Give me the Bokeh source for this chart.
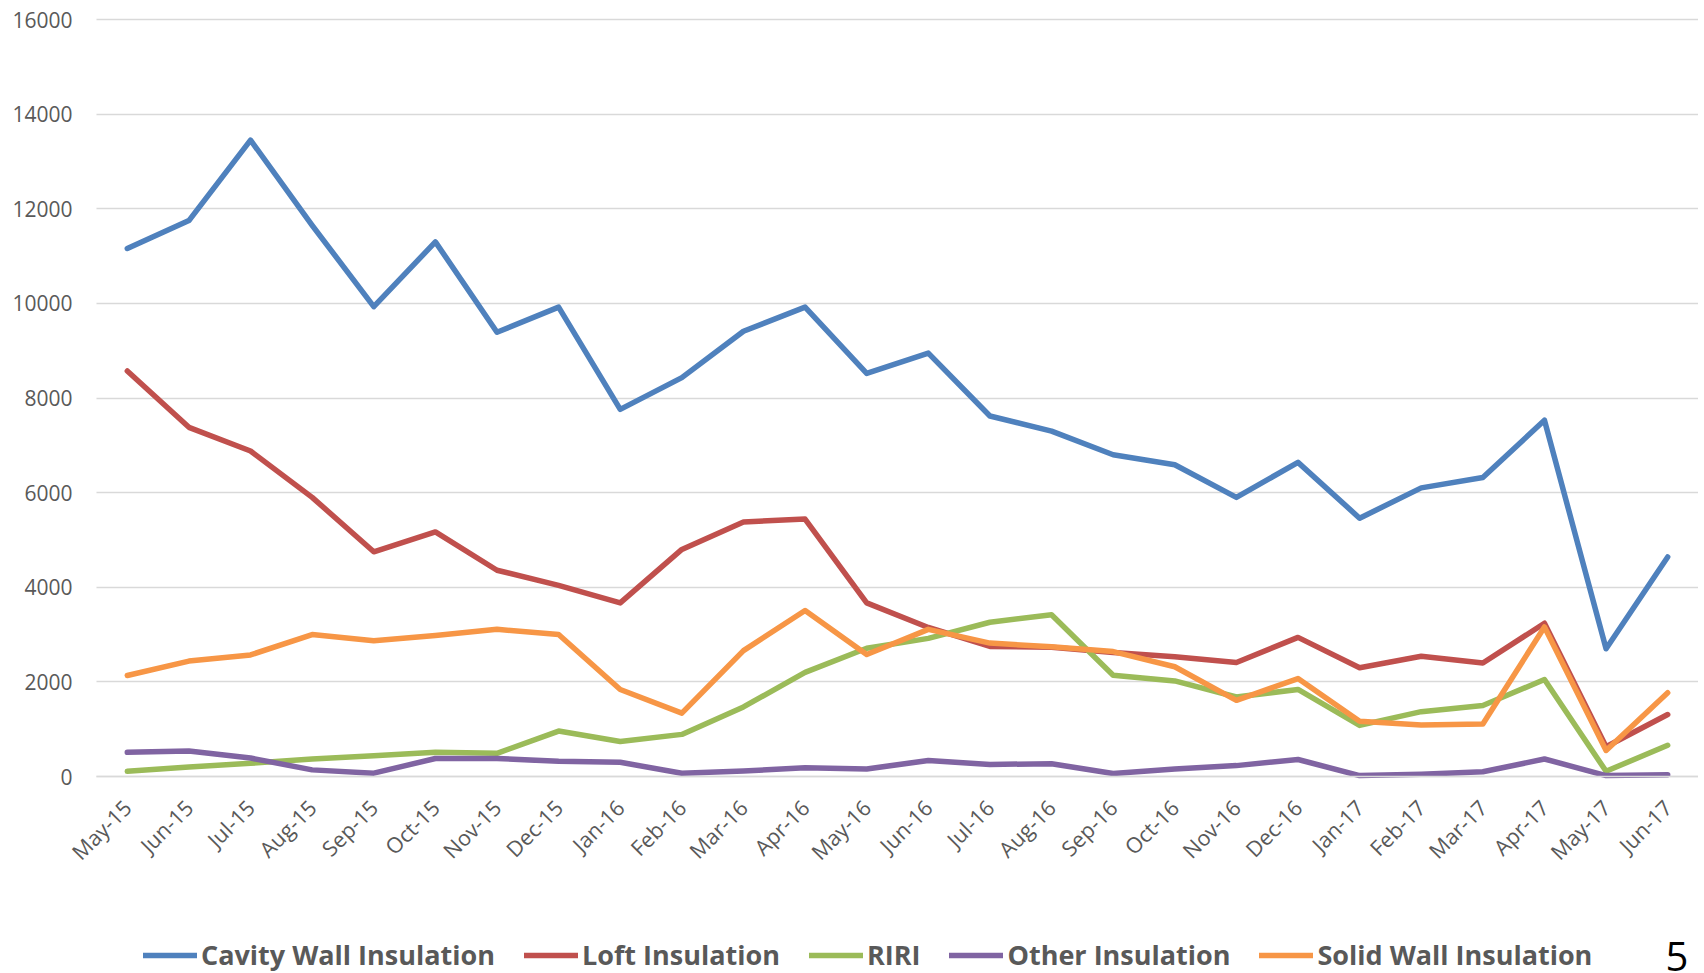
from bokeh.plotting import figure
from bokeh.models import Range1d, Legend, LegendItem, Label, FixedTicker
from bokeh.embed import file_html
from bokeh.resources import INLINE
import math

months = ["May-15", "Jun-15", "Jul-15", "Aug-15", "Sep-15", "Oct-15", "Nov-15", "Dec-15",
          "Jan-16", "Feb-16", "Mar-16", "Apr-16", "May-16", "Jun-16", "Jul-16", "Aug-16",
          "Sep-16", "Oct-16", "Nov-16", "Dec-16", "Jan-17", "Feb-17", "Mar-17", "Apr-17",
          "May-17", "Jun-17"]

cavity_wall = [11160, 11750, 13450, 11650, 9930, 11300, 9390, 9920,
               7760, 8430, 9410, 9920, 8520, 8950, 7620, 7300,
               6800, 6590, 5900, 6640, 5460, 6100, 6320, 7530,
               2700, 4640]
loft = [8570, 7380, 6880, 5900, 4750, 5170, 4360, 4040,
        3670, 4800, 5380, 5440, 3670, 3150, 2750, 2730,
        2620, 2530, 2410, 2940, 2300, 2540, 2400, 3240,
        630, 1310]
riri = [110, 200, 280, 370, 440, 510, 490, 960,
        740, 890, 1470, 2200, 2710, 2920, 3260, 3420,
        2140, 2020, 1680, 1840, 1080, 1370, 1500, 2050,
        110, 660]
other = [510, 540, 390, 140, 70, 380, 380, 320,
         300, 70, 115, 185, 160, 340, 255, 270,
         65, 160, 230, 360, 20, 50, 100, 370,
         20, 35]
solid_wall = [2135, 2440, 2570, 3000, 2870, 2980, 3110, 3000,
              1840, 1340, 2660, 3510, 2580, 3110, 2820, 2740,
              2640, 2320, 1610, 2070, 1170, 1090, 1110, 3160,
              550, 1770]
y_ticks = [0, 2000, 4000, 6000, 8000, 10000, 12000, 14000, 16000]

series = [
    ("Cavity Wall Insulation", cavity_wall, "#4F81BD"),
    ("Loft Insulation", loft, "#C0504D"),
    ("RIRI", riri, "#9BBB59"),
    ("Other Insulation", other, "#8064A2"),
    ("Solid Wall Insulation", solid_wall, "#F79646"),
]

x_idx = list(range(len(months)))
n = len(months)

# layout geometry (pixels)
W, H = 1698, 973
plot_left, plot_right = 96, 1698
plot_top, plot_bottom = 19, 776
band = (plot_right - plot_left) / n
x_start = -0.5 - plot_left / band
x_end = n - 0.5 + (W - plot_right) / band
px_per_unit = (plot_bottom - plot_top) / (y_ticks[-1] - y_ticks[0])
y_end = y_ticks[-1] + plot_top / px_per_unit
y_start = y_ticks[0] - (H - plot_bottom) / px_per_unit
grid_x0, grid_x1 = -0.5, n - 0.5

p = figure(width=W, height=H, x_range=Range1d(x_start, x_end),
           y_range=Range1d(y_start, y_end), output_backend="svg", toolbar_location=None,
           min_border_left=0, min_border_right=0, min_border_top=0, min_border_bottom=0)
p.outline_line_color = None
p.background_fill_color = "white"

items = []
for name, vals, col in series:
    r = p.line(x_idx, vals, line_color=col, line_width=5.5, line_join="round", line_cap="round")
    items.append(LegendItem(label=name, renderers=[r]))

# y axis
p.yaxis.fixed_location = grid_x0
p.yaxis.ticker = FixedTicker(ticks=y_ticks)
p.yaxis.axis_line_color = None
p.yaxis.major_tick_line_color = None
p.yaxis.major_tick_out = 0
p.yaxis.major_tick_in = 0
p.yaxis.minor_tick_line_color = None
p.yaxis.major_label_text_font = "Open Sans"
p.yaxis.major_label_text_font_size = "21px"
p.yaxis.major_label_text_color = "#595959"
p.yaxis.major_label_standoff = 24

# x axis
p.xaxis.fixed_location = 0
p.xaxis.ticker = FixedTicker(ticks=x_idx)
p.xaxis.major_label_overrides = {i: m for i, m in zip(x_idx, months)}
p.xaxis.bounds = (grid_x0, grid_x1)
p.xaxis.axis_line_color = "#D9D9D9"
p.xaxis.axis_line_width = 1.5
p.xaxis.major_tick_line_color = None
p.xaxis.major_tick_out = 0
p.xaxis.major_tick_in = 0
p.xaxis.minor_tick_line_color = None
p.xaxis.major_label_orientation = math.pi / 4
p.xaxis.major_label_text_font = "Open Sans"
p.xaxis.major_label_text_font_size = "21.5px"
p.xaxis.major_label_text_color = "#595959"
p.xaxis.major_label_standoff = 27

p.xgrid.grid_line_color = None
grid_ok = True
try:
    p.ygrid.cross_bounds = (grid_x0, grid_x1)
except Exception:
    grid_ok = False
if grid_ok:
    p.ygrid.ticker = FixedTicker(ticks=y_ticks)
    p.ygrid.grid_line_color = "#D9D9D9"
    p.ygrid.grid_line_width = 1.5
else:
    p.ygrid.grid_line_color = None
    p.segment(x0=[grid_x0] * len(y_ticks), x1=[grid_x1] * len(y_ticks), y0=y_ticks, y1=y_ticks,
              line_color="#D9D9D9", line_width=1.5, level="underlay")

legend = Legend(items=items, orientation="horizontal", location=(143, 0),
                glyph_width=54, glyph_height=20, label_standoff=4, spacing=29,
                padding=0, margin=0, border_line_alpha=0, background_fill_alpha=0,
                label_text_font="Open Sans", label_text_font_style="bold",
                label_text_font_size="27px", label_text_color="#595959")
p.add_layout(legend, "center")

page_num = Label(x=1665, y=17, x_units="screen", y_units="screen", text="5",
                 text_font="Open Sans", text_font_size="40px", text_color="black",
                 text_baseline="alphabetic", text_align="left")
p.add_layout(page_num)

open("out.html", "w").write(file_html(p, INLINE))
